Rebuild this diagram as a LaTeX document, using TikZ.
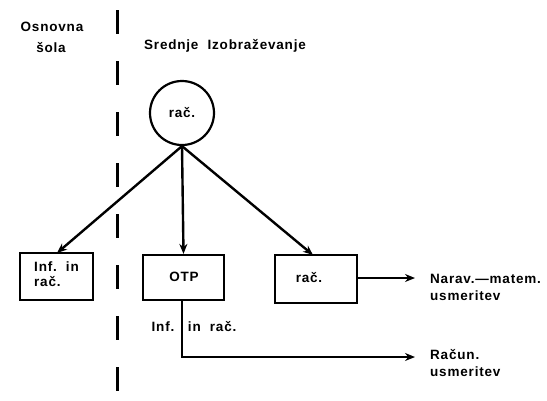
\documentclass[tikz,border=0pt]{standalone}
\usepackage{fontspec}
\setmainfont{Liberation Sans}[LetterSpace=6]
\usetikzlibrary{arrows.meta}
\begin{document}
\begin{tikzpicture}[x=1pt,y=-1pt,
  lbl/.style={font=\fontsize{13.5}{15}\selectfont\bfseries, inner sep=0pt},
  boxn/.style={draw, line width=2.2pt, minimum width=73pt, minimum height=46pt, inner sep=0pt},
  conn/.style={line width=2.4pt, -{Stealth[length=10pt,width=8pt]}},
  plain/.style={line width=2.4pt}]
\useasboundingbox (0,0) rectangle (547,400);
% divider
\draw[line width=3pt, dash pattern=on 24pt off 27pt] (117,10) -- (117,395);
% headings
\node[lbl] (osn) at (52,27) {Osnovna};
\node[lbl] (sola) at (51,48) {šola};
\node[lbl] (sred) at (225,46) {Srednje\ \ Izobraževanje};
% circle
\node[draw, circle, line width=2.2pt, minimum size=64pt, inner sep=0pt] (c) at (182,113) {};
\node[lbl] at (182,113) {rač.};
% boxes
\node[boxn, minimum width=73pt, minimum height=47pt] (b1) at (56.5,276.5) {};
\node[lbl, align=left, anchor=north west] (b1t) at (34,262) {Inf.\ \ in\\[0pt]rač.};
\node[boxn, minimum width=81pt, minimum height=45pt] (otp) at (183.5,277.5) {};
\node[lbl] at (184,277) {OTP};
\node[boxn, minimum width=82pt, minimum height=48pt] (b3) at (316,279) {};
\node[lbl] at (309,278) {rač.};
% connectors
\coordinate (cb) at (c.south);
\draw[conn] (cb) -- (otp.north);
\draw[conn] (cb) -- (57,253);
\draw[conn] (cb) -- (313,255);
\coordinate (e1) at (415,278);
\draw[conn] (b3.east |- 0,278) -- (e1);
\coordinate (otpb) at (182,300);
\coordinate (e2) at (415,357);
\draw[plain] (otpb) -- (182,357) -- (410,357);
\draw[conn] (400,357) -- (e2);
\node[lbl] (lab) at (194,327) {Inf.\ \ \ in\ \ rač.};
% right texts
\node[lbl, anchor=west, align=left] (t1) at (430,287) {Narav.—matem.\\[2pt]usmeritev};
\node[lbl, anchor=west, align=left] (t2) at (430,363) {Račun.\\[2pt]usmeritev};
\end{tikzpicture}
\end{document}
